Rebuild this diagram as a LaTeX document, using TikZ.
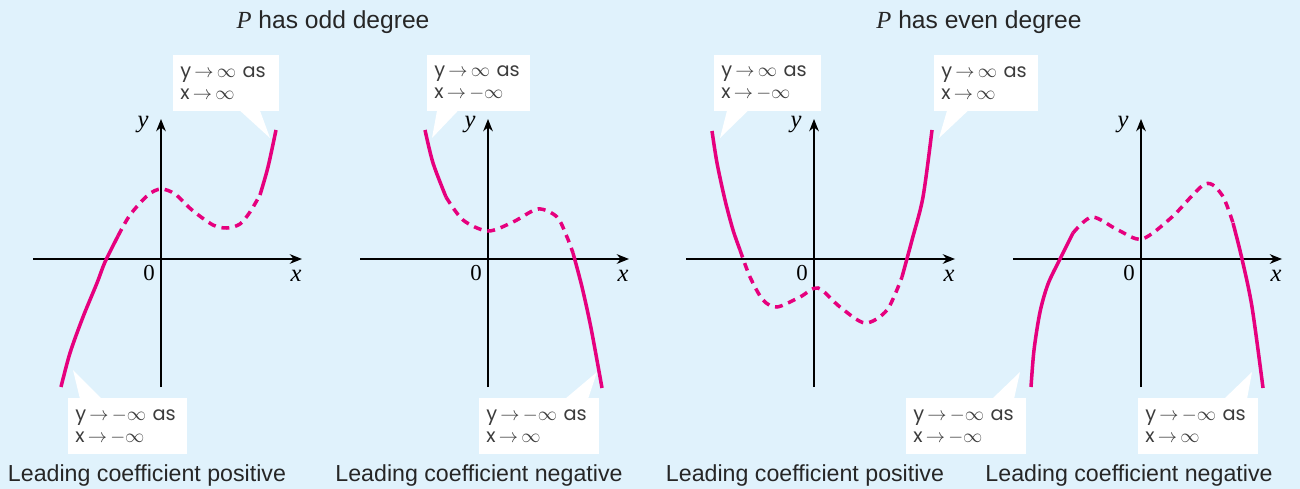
\documentclass[tikz,border=0pt]{standalone}
\usepackage{fontspec}
\setmainfont{Liberation Sans}
\newfontfamily\serifface{Liberation Serif}
\newfontfamily\bubblefont{Poppins}
\usepackage{tikz}
\usetikzlibrary{arrows.meta,calc}

\definecolor{bgblue}{RGB}{224,242,252}
\definecolor{curvepink}{RGB}{230,0,126}
\definecolor{bubbletext}{RGB}{60,60,60}

\tikzset{
  axis/.style={line width=0.75pt, -{Stealth[length=7pt,width=5.5pt]}},
  solidpart/.style={draw=curvepink, line width=2pt, smooth},
  dashpart/.style={solidpart, dash pattern=on 4.5pt off 3.4pt},
  bubble/.style={fill=white, anchor=north west, inner xsep=0.14cm, inner ysep=0pt,
    minimum height=1.12cm, align=left, text=bubbletext,
    font=\bubblefont\fontsize{11}{12.5}\selectfont},
  axlabel/.style={inner sep=0pt, font=\serifface\fontsize{13}{13}\selectfont},
  caption/.style={inner sep=0pt, font=\fontsize{13.2}{15}\selectfont, text=black!85},
  header/.style={inner sep=0pt, font=\fontsize{14}{16}\selectfont, text=black!85}
}

\begin{document}
\begin{tikzpicture}[x=0.02cm,y=-0.02cm]
  \fill[bgblue] (0,0) rectangle (1300,489);
  \useasboundingbox (0,0) rectangle (1300,489);

  % axes
  \foreach \ox/\p in {161/1,488/2,814/3,1141/4} {
      \coordinate (xl\p) at (\ox-128,259);
      \coordinate (xr\p) at (\ox+141,259);
      \coordinate (yb\p) at (\ox,387);
      \coordinate (yt\p) at (\ox,119);
      \draw[axis] (xl\p) -- (xr\p);
      \draw[axis] (yb\p) -- (yt\p);
      \node[axlabel] (zero\p) at (\ox-12,273) {0};
      \node[axlabel,font=\serifface\itshape\fontsize{14}{14}\selectfont] (ylab\p) at (\ox-18,125) {y};
      \node[axlabel,font=\serifface\itshape\fontsize{14}{14}\selectfont] (xlab\p) at (\ox+135,276) {x};
    }

  % odd degree, positive
  \draw[solidpart] plot coordinates {(61,387) (70,353) (83,317) (97,283) (105,262) (118,236)};
  \draw[dashpart] plot coordinates {(118,236) (130,215) (148,195) (161,189) (175,194) (192,210)
      (213,225) (227,228) (240,224) (250,212) (260,195)};
  \draw[solidpart] plot coordinates {(260,195) (268,167) (276,130)};

  % odd degree, negative
  \draw[solidpart] plot coordinates {(425,130) (433,163) (446,197)};
  \draw[dashpart] plot coordinates {(446,197) (463,220) (488,231) (513,222) (538,209)
      (557,217) (567,237) (573,253)};
  \draw[solidpart] plot coordinates {(573,253) (582,287) (591,328) (602,388)};

  % even degree, positive
  \draw[solidpart] plot coordinates {(712,131) (717,163) (725,200) (733,230) (740,250)};
  \draw[dashpart] plot coordinates {(740,250) (750,277) (763,300) (777,307) (800,297)
      (818,288) (840,307) (865,323) (887,310) (902,277)};
  \draw[solidpart] plot coordinates {(902,277) (912,240) (923,197) (932,130)};

  % even degree, negative
  \draw[solidpart] plot coordinates {(1031,387) (1034,350) (1040,312) (1048,284) (1060,259) (1073,233)};
  \draw[dashpart] plot coordinates {(1073,233) (1092,217) (1118,230) (1142,239) (1172,217)
      (1205,184) (1222,195) (1233,223)};
  \draw[solidpart] plot coordinates {(1233,223) (1242,259) (1252,307) (1263,388)};

  % callouts
  \node[bubble,text width=1.84cm] (b1) at (173,55) {y\,$\rightarrow$\,$\infty$ as\\x\,$\rightarrow$\,$\infty$};
  \coordinate (t1) at (270,138);
  \fill[white] ($(b1.south west)+(67,-1)$) -- ($(b1.south west)+(87,-1)$) -- (t1) -- cycle;

  \node[bubble,text width=2.10cm] (b2) at (68,398) {y\,$\rightarrow$\,$-\infty$ as\\x\,$\rightarrow$\,$-\infty$};
  \coordinate (t2) at (73,370);
  \fill[white] ($(b2.north west)+(12,1)$) -- ($(b2.north west)+(34,1)$) -- (t2) -- cycle;

  \node[bubble,text width=1.78cm] (b3) at (427,55) {y\,$\rightarrow$\,$\infty$ as\\x\,$\rightarrow$\,$-\infty$};
  \coordinate (t3) at (432,138);
  \fill[white] ($(b3.south west)+(10,-1)$) -- ($(b3.south west)+(31,-1)$) -- (t3) -- cycle;

  \node[bubble,text width=2.12cm] (b4) at (479,398) {y\,$\rightarrow$\,$-\infty$ as\\x\,$\rightarrow$\,$\infty$};
  \coordinate (t4) at (597,372);
  \fill[white] ($(b4.north west)+(86,1)$) -- ($(b4.north west)+(109,1)$) -- (t4) -- cycle;

  \node[bubble,text width=1.86cm] (b5) at (714,55) {y\,$\rightarrow$\,$\infty$ as\\x\,$\rightarrow$\,$-\infty$};
  \coordinate (t5) at (720,138);
  \fill[white] ($(b5.south west)+(13,-1)$) -- ($(b5.south west)+(34,-1)$) -- (t5) -- cycle;

  \node[bubble,text width=1.80cm] (b6) at (934,55) {y\,$\rightarrow$\,$\infty$ as\\x\,$\rightarrow$\,$\infty$};
  \coordinate (t6) at (939,138);
  \fill[white] ($(b6.south west)+(13,-1)$) -- ($(b6.south west)+(34,-1)$) -- (t6) -- cycle;

  \node[bubble,text width=2.12cm] (b7) at (906,398) {y\,$\rightarrow$\,$-\infty$ as\\x\,$\rightarrow$\,$-\infty$};
  \coordinate (t7) at (1020,372);
  \fill[white] ($(b7.north west)+(86,1)$) -- ($(b7.north west)+(108,1)$) -- (t7) -- cycle;

  \node[bubble,text width=2.12cm] (b8) at (1138,398) {y\,$\rightarrow$\,$-\infty$ as\\x\,$\rightarrow$\,$\infty$};
  \coordinate (t8) at (1252,372);
  \fill[white] ($(b8.north west)+(86,1)$) -- ($(b8.north west)+(109,1)$) -- (t8) -- cycle;

  % captions
  \node[header] (hodd) at (333,22) {{\serifface\itshape P} has odd degree};
  \node[header] (heven) at (979,22) {{\serifface\itshape P} has even degree};
  \node[caption] (c1) at (147,476) {Leading coefficient positive};
  \node[caption] (c2) at (479,476) {Leading coefficient negative};
  \node[caption] (c3) at (805,476) {Leading coefficient positive};
  \node[caption] (c4) at (1129,476) {Leading coefficient negative};
\end{tikzpicture}
\end{document}
